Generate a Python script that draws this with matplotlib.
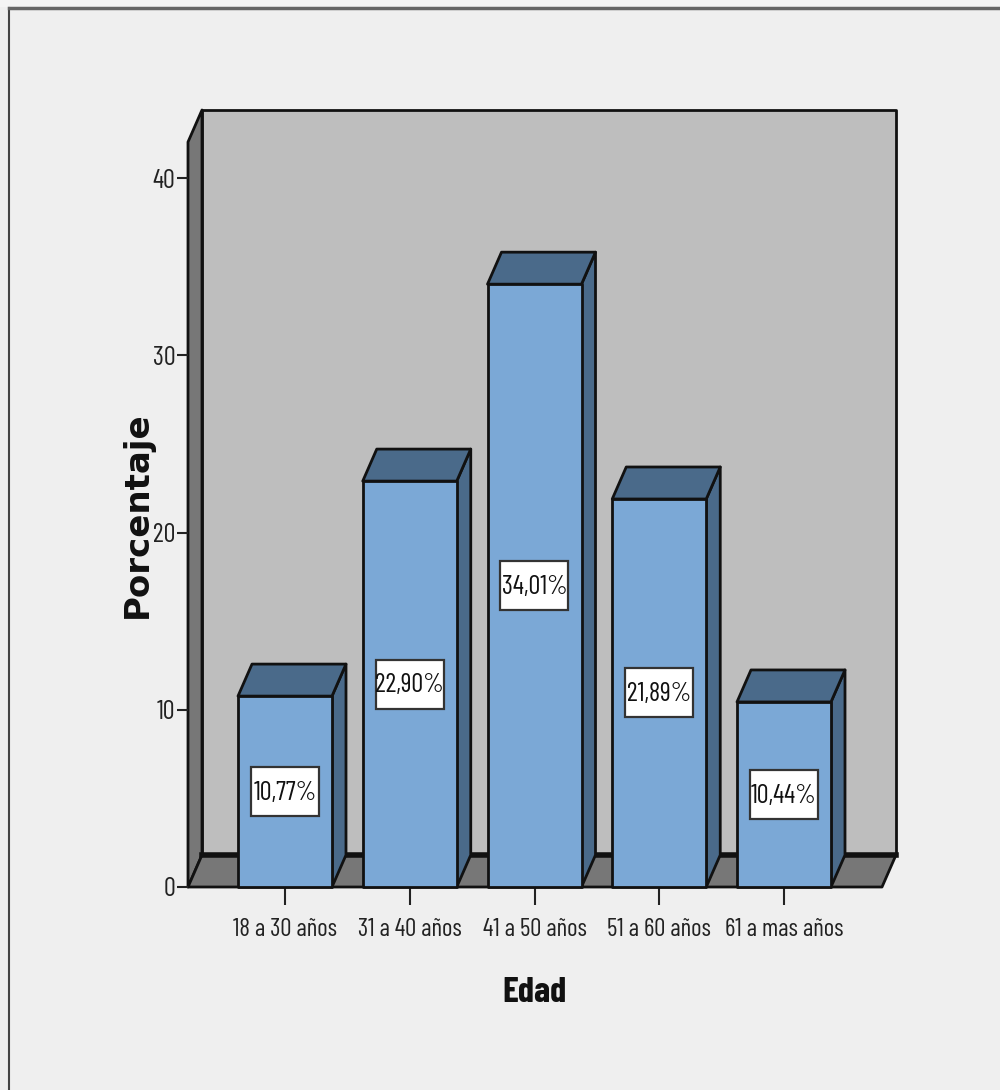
import matplotlib
matplotlib.use("Agg")
import matplotlib.pyplot as plt
from matplotlib.patches import Polygon, Rectangle
from matplotlib.lines import Line2D

categories = ["18 a 30 años", "31 a 40 años", "41 a 50 años", "51 a 60 años", "61 a mas años"]
values = [10.77, 22.90, 34.01, 21.89, 10.44]
value_labels = ["10,77%", "22,90%", "34,01%", "21,89%", "10,44%"]
y_ticks = [0, 10, 20, 30, 40]

NARROW = ["Barlow Condensed", "Liberation Sans", "DejaVu Sans"]
FRONT, DARK, WALL, FLOOR, EDGE = "#7BA8D6", "#4A6A8A", "#BEBEBE", "#777777", "#111111"
BG = "#EFEFEF"

W, H = 1000, 1090
fig = plt.figure(figsize=(W / 100, H / 100), dpi=100, facecolor=BG)

# axes box in pixels
L, R, B, T = 188, 882, 887, 142
ax = fig.add_axes([L / W, 1 - B / H, (R - L) / W, (B - T) / H])
PX_X = 124.75
PX_Y = 17.725
ax.set_xlim((L - 285) / PX_X, (R - 285) / PX_X)
ax.set_ylim(0, (B - T) / PX_Y)
ax.patch.set_visible(False)
for s in ax.spines.values():
    s.set_visible(False)

dx, dy = 14 / PX_X, 32 / PX_Y     # 3-D depth
bw = 94 / PX_X                    # bar width
x0, x1 = ax.get_xlim()
ytop = ax.get_ylim()[1]
lw = 2.0


def poly(pts, fc, z, **kw):
    ax.add_patch(Polygon(pts, closed=True, facecolor=fc, edgecolor=EDGE, linewidth=lw,
                         joinstyle="round", clip_on=False, zorder=z, **kw))


# back wall, left wall, floor
poly([(x0 + dx, dy), (x1 + dx, dy), (x1 + dx, ytop + dy), (x0 + dx, ytop + dy)], WALL, 1)
poly([(x0, 0), (x0 + dx, dy), (x0 + dx, ytop + dy), (x0, ytop)], FLOOR, 1.1)
poly([(x0, 0), (x1, 0), (x1 + dx, dy), (x0 + dx, dy)], FLOOR, 1.2)
ax.add_line(Line2D([x0 + dx, x1 + dx], [dy, dy], color=EDGE, lw=4, zorder=1.3, clip_on=False))

# bars
for i, v in enumerate(values):
    a, b = i - bw / 2, i + bw / 2
    z = 2 + i * 0.1
    poly([(b, 0), (b + dx, dy), (b + dx, v + dy), (b, v)], DARK, z)
    poly([(a, v), (b, v), (b + dx, v + dy), (a + dx, v + dy)], DARK, z)
    poly([(a, 0), (b, 0), (b, v), (a, v)], FRONT, z + 0.01)
    bxw, bxh = 68 / PX_X, 49 / PX_Y
    ax.add_patch(Rectangle((i - bxw / 2, v / 2 - bxh / 2), bxw, bxh, facecolor="white",
                           edgecolor="#333333", linewidth=1.6, zorder=z + 0.02))
    ax.text(i, v / 2 - 0.06, value_labels[i], ha="center", va="center", family=NARROW,
            fontsize=19, color="#111111", zorder=z + 0.03)

ax.set_xticks(range(len(categories)))
ax.set_xticklabels(categories, family=NARROW, fontsize=18, color="#222222")
ax.set_yticks(y_ticks)
ax.set_yticklabels([str(t) for t in y_ticks], family=NARROW, fontsize=19, color="#222222")
ax.tick_params(axis="x", length=13, width=1.5, color="#222222", pad=9.5)
ax.tick_params(axis="y", length=8, width=1.5, color="#222222", pad=1)

fig.text(535 / W, 1 - 993 / H, "Edad", ha="center", va="center", family=NARROW,
         fontsize=26, fontweight="bold", color="#111111")
fig.text(137 / W, 1 - 515 / H, "Porcentaje", ha="center", va="center", rotation=90,
         family="DejaVu Sans", fontsize=24.5, fontweight="bold", color="#111111")

# outer frame
fig.add_artist(Line2D([9 / W, 9 / W], [0, 1 - 8 / H], color="#444444", lw=1.5))
fig.add_artist(Line2D([9 / W, 1], [1 - 8 / H, 1 - 8 / H], color="#666666", lw=2.5))
fig.add_artist(Rectangle((0, 1 - 7 / H), 1, 7 / H, facecolor="#F4F4F4", edgecolor="none",
                         transform=fig.transFigure))

fig.savefig("out.png", dpi=100, facecolor=BG)
